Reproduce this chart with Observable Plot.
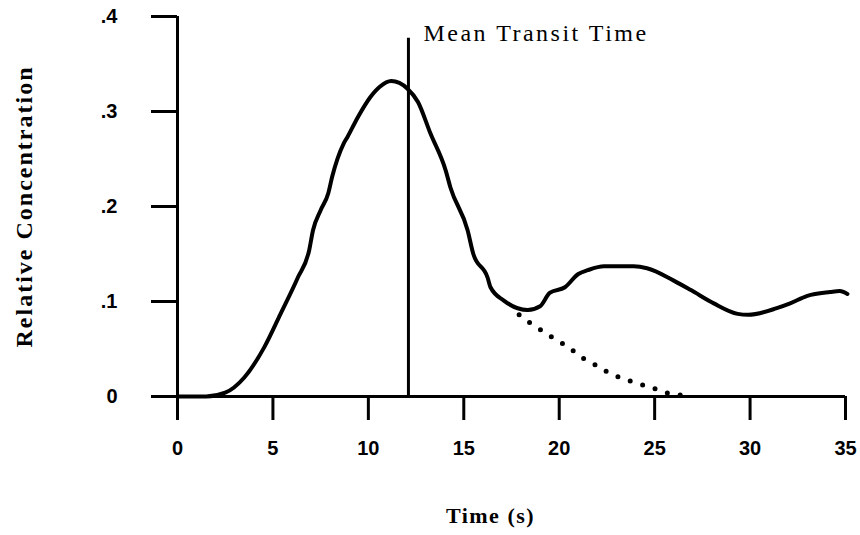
<!DOCTYPE html>
<html><head><meta charset="utf-8">
<script src="https://cdn.jsdelivr.net/npm/d3@7"></script>
<script src="https://cdn.jsdelivr.net/npm/@observablehq/plot@0.6"></script>
<style>body{margin:0;background:#fff}</style>
</head><body><div id="chart"></div>
<script>
// Main measured curve
const time = [0, 1.5, 2.5, 3.5, 4.55, 5.4, 6.3, 6.9, 7.1, 7.5, 7.9, 8.1, 8.7, 8.9, 9.45, 10.1, 10.6, 11.2, 12.05, 12.6, 13.25, 14.05, 14.3, 15.2, 15.5, 16.25, 16.4, 17.1, 18.35, 19.0, 19.5, 20.3, 21.0, 21.5, 22.35, 23.9, 24.6, 26.0, 26.9, 28.1, 29.35, 29.9, 31.4, 32.1, 33.0, 34.2, 34.7, 35.1];
const conc = [0, 0, 0.004, 0.02, 0.052, 0.087, 0.125, 0.154, 0.175, 0.196, 0.214, 0.231, 0.266, 0.273, 0.294, 0.315, 0.326, 0.332, 0.324, 0.31, 0.277, 0.238, 0.22, 0.175, 0.15, 0.125, 0.115, 0.101, 0.091, 0.095, 0.109, 0.115, 0.129, 0.133, 0.137, 0.137, 0.135, 0.122, 0.112, 0.098, 0.087, 0.086, 0.093, 0.098, 0.106, 0.11, 0.111, 0.108];
// Extrapolated first-pass (dotted)
const extrapTime = [17.9, 18.5, 19.2, 19.8, 20.5, 21.1, 21.75, 22.4, 23.15, 23.9, 24.75, 25.6, 26.5];
const extrapConc = [0.086, 0.077, 0.068, 0.06, 0.052, 0.042, 0.035, 0.027, 0.02, 0.015, 0.01, 0.004, 0.001];
const meanTransitTime = 12.1;
const meanLineTop = 0.377;
const annotation = "Mean Transit Time";
const xTicks = [0, 5, 10, 15, 20, 25, 30, 35];
const yTicks = [0, 0.1, 0.2, 0.3, 0.4];
const yTickLabels = ["0", ".1", ".2", ".3", ".4"];
const xTitle = "Time (s)";
const yTitle = "Relative Concentration";

const curve = time.map((t, i) => ({t, c: conc[i]}));
const extrap = extrapTime.map((t, i) => ({t, c: extrapConc[i]}));
const sans = "'Liberation Sans', Arial, sans-serif";
const serif = "'Liberation Serif', 'Times New Roman', serif";

const chart = Plot.plot({
  width: 860, height: 535,
  marginLeft: 177, marginRight: 15, marginTop: 16, marginBottom: 139,
  x: {domain: [0, 35]},
  y: {domain: [0, 0.4]},
  style: {background: "white", color: "black", overflow: "visible"},
  marks: [
    Plot.axisX(xTicks, {tickSize: 24, tickPadding: 20, strokeWidth: 3, fontSize: 20, fontWeight: "bold", fontFamily: sans, label: null}),
    Plot.axisY(yTicks, {tickSize: 26, tickPadding: 34, strokeWidth: 3, fontSize: 20, fontWeight: "bold", fontFamily: sans, tickFormat: d => yTickLabels[yTicks.indexOf(d)], label: null}),
    Plot.ruleY([0], {strokeWidth: 3}),
    Plot.ruleX([0], {strokeWidth: 3}),
    Plot.ruleX([{x: meanTransitTime, y1: 0, y2: meanLineTop}], {x: "x", y1: "y1", y2: "y2", strokeWidth: 3}),
    Plot.line(extrap, {x: "t", y: "c", strokeWidth: 5, strokeDasharray: "0 13", strokeLinecap: "round"}),
    Plot.line(curve, {x: "t", y: "c", strokeWidth: 4, strokeLinejoin: "round", strokeLinecap: "round", curve: "monotone-x"}),
    Plot.text([annotation], {x: () => meanTransitTime, y: () => meanLineTop, text: d => d, dx: 15, dy: -5, textAnchor: "start", lineAnchor: "middle", fontSize: 24, fontFamily: serif}),
    Plot.text([xTitle], {frameAnchor: "bottom", text: d => d, dx: -21, dy: 111, lineAnchor: "top", fontSize: 22, fontWeight: "bold", fontFamily: serif}),
    Plot.text([yTitle], {frameAnchor: "left", rotate: -90, text: d => d, dx: -153, textAnchor: "middle", lineAnchor: "middle", fontSize: 24, fontWeight: "bold", fontFamily: serif})
  ]
});
d3.select(chart).selectAll("text").filter(function() { return this.textContent === yTitle; }).attr("letter-spacing", "2px");
d3.select(chart).selectAll("text").filter(function() { return this.textContent === annotation; }).attr("letter-spacing", "2.5px");
d3.select(chart).selectAll("text").filter(function() { return this.textContent === xTitle; }).attr("letter-spacing", "1.5px");
document.getElementById("chart").appendChild(chart);
</script>
</body></html>
